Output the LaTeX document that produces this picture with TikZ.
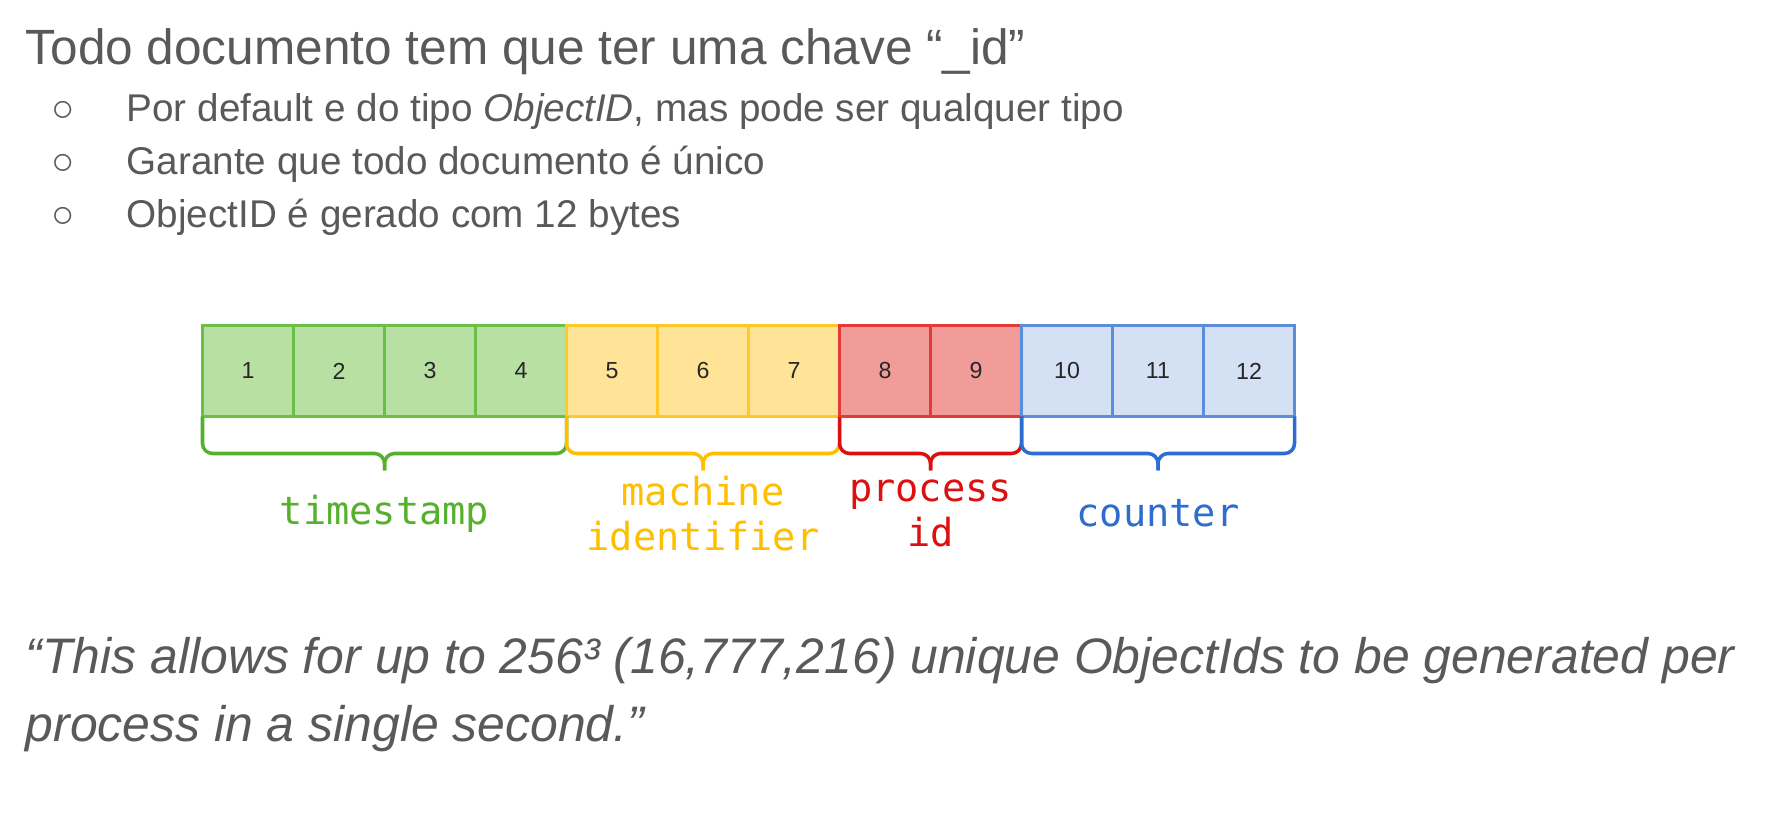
\documentclass[tikz,border=0pt]{standalone}
\usepackage{fontspec}
\setmainfont{Liberation Sans}
\newfontfamily\monofont{DejaVu Sans Mono}
\usepackage{tikz}
\usetikzlibrary{calc,positioning}
\definecolor{textgray}{HTML}{595959}
\definecolor{tsFill}{HTML}{B8E0A3}
\definecolor{tsLine}{HTML}{6CBF46}
\definecolor{tsDark}{HTML}{55B02B}
\definecolor{miFill}{HTML}{FFE497}
\definecolor{miLine}{HTML}{FFC727}
\definecolor{miDark}{HTML}{FFBF00}
\definecolor{piFill}{HTML}{F19C98}
\definecolor{piLine}{HTML}{E33B36}
\definecolor{piDark}{HTML}{DC1010}
\definecolor{ctFill}{HTML}{D4E0F3}
\definecolor{ctLine}{HTML}{5A8EDA}
\definecolor{ctDark}{HTML}{2E6DD0}
\newcommand{\groupbrace}[4]{%
	\coordinate (#4) at ($(#1.south west)!.5!(#2.south east)+(0,-0.37)$);
	\draw[brace, #3] (#1.south west) |- (#4) -- ++(0,-0.17);
	\draw[brace, #3] (#2.south east) |- (#4) -- ++(0,-0.17);
}
\tikzset{
    cell/.style={draw, minimum width = 9.1mm, minimum height = 9.1mm, inner sep = 0mm, outer sep = 0mm, line width = 0.9pt, text=black!85, font=\fontsize{6.6}{7}\selectfont},
    cellTS/.style={cell, fill=tsFill, draw=tsLine},
    cellMI/.style={cell, fill=miFill, draw=miLine},
    cellPI/.style={cell, fill=piFill, draw=piLine},
    cellCT/.style={cell, fill=ctFill, draw=ctLine},
    brace/.style={line width = 1pt, rounded corners = 1mm},
    lbl/.style={font=\monofont\fontsize{11}{12.8}\selectfont, align=center, inner sep = 0mm},
    txt/.style={anchor=base west, inner sep = 0mm, text=textgray},
    node distance=0mm
}
\begin{document}
\begin{tikzpicture}
			\useasboundingbox (0,0) rectangle (17.65,-8.18);

			\node[txt, font=\fontsize{14.1}{17}\selectfont] (title) at (0.25,-0.65) {Todo documento tem que ter uma chave “\_id”};
			\node[txt, anchor=base, font=\fontsize{11}{13}\selectfont] (d1) at (0.63,-1.216) {○};
			\node[txt, anchor=base, font=\fontsize{11}{13}\selectfont] (d2) at (0.63,-1.745) {○};
			\node[txt, anchor=base, font=\fontsize{11}{13}\selectfont] (d3) at (0.63,-2.274) {○};
			\node[txt, font=\fontsize{11}{13}\selectfont] (p1) at (1.26,-1.216) {Por default e do tipo \textit{ObjectID}, mas pode ser qualquer tipo};
			\node[txt, font=\fontsize{11}{13}\selectfont] (p2) at (1.26,-1.745) {Garante que todo documento é único};
			\node[txt, font=\fontsize{11}{13}\selectfont] (p3) at (1.26,-2.274) {ObjectID é gerado com 12 bytes};

			\node[cellTS] (c1) at (2.48,-3.71) {1};
			\node[cellTS, right = of c1] (c2) {2};
			\node[cellTS, right = of c2] (c3) {3};
			\node[cellTS, right = of c3] (c4) {4};
			\node[cellMI, right = of c4] (c5) {5};
			\node[cellMI, right = of c5] (c6) {6};
			\node[cellMI, right = of c6] (c7) {7};
			\node[cellPI, right = of c7] (c8) {8};
			\node[cellPI, right = of c8] (c9) {9};
			\node[cellCT, right = of c9] (c10) {10};
			\node[cellCT, right = of c10] (c11) {11};
			\node[cellCT, right = of c11] (c12) {12};

			\groupbrace{c1}{c4}{tsDark}{tsTip}
			\groupbrace{c5}{c7}{miDark}{miTip}
			\groupbrace{c8}{c9}{piDark}{piTip}
			\groupbrace{c10}{c12}{ctDark}{ctTip}

			\node[lbl, text=tsDark] (ts) at ($(tsTip)+(0,-0.6)$) {timestamp};
			\node[lbl, text=miDark] (mi) at ($(miTip)+(0,-0.6)$) {machine\\identifier};
			\node[lbl, text=piDark] (pi) at ($(piTip)+(0,-0.6)$) {process\\id};
			\node[lbl, text=ctDark] (ct) at ($(ctTip)+(0,-0.6)$) {counter};

			\node[txt, font=\itshape\fontsize{14.2}{17}\selectfont] (q1) at (0.25,-6.73) {“This allows for up to 256³ (16,777,216) unique ObjectIds to be generated per};
			\node[txt, font=\itshape\fontsize{14.2}{17}\selectfont] (q2) at (0.25,-7.41) {process in a single second.”};
		\end{tikzpicture}
\end{document}
